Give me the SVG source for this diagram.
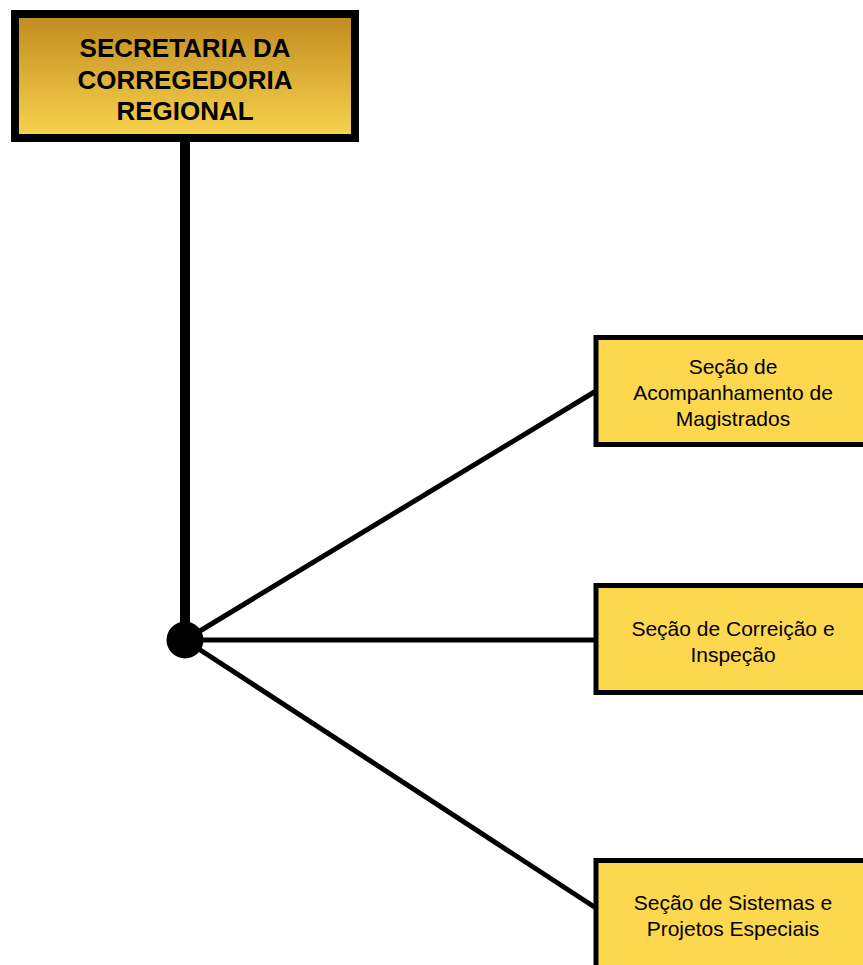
<svg xmlns="http://www.w3.org/2000/svg" width="863" height="965" viewBox="0 0 863 965">
  <style>
    .conn { stroke: #000; stroke-width: 5; fill: none; }
    .trunk { stroke: #000; stroke-width: 10; fill: none; }
    .sec { fill: #fdd84e; stroke: #000; stroke-width: 5; }
    .secText { font-family: "Liberation Sans", Arial, Helvetica, sans-serif; font-size: 21px; fill: #000; text-anchor: middle; }
    .topText { font-family: "Liberation Sans", Arial, Helvetica, sans-serif; font-size: 26px; font-weight: bold; fill: #000; text-anchor: middle; }
  </style>
  <defs>
    <linearGradient id="gold" x1="0" y1="0" x2="0" y2="1">
      <stop offset="0" stop-color="#c08a1f"/>
      <stop offset="1" stop-color="#f8d44e"/>
    </linearGradient>
  </defs>
  <rect width="863" height="965" fill="#fff"/>
  <g id="connectors">
    <line class="trunk" x1="185" y1="140" x2="185" y2="640"/>
    <line class="conn" x1="185" y1="640" x2="596" y2="391"/>
    <line class="conn" x1="185" y1="640" x2="596" y2="640"/>
    <line class="conn" x1="185" y1="640" x2="596" y2="908"/>
    <circle cx="185" cy="640" r="18.5" fill="#000"/>
  </g>
  <g id="secretaria">
    <rect x="15" y="14" width="340" height="124" fill="url(#gold)" stroke="#000" stroke-width="8"/>
    <text class="topText" x="185" y="57">SECRETARIA DA</text>
    <text class="topText" x="185" y="88.5">CORREGEDORIA</text>
    <text class="topText" x="185" y="120">REGIONAL</text>
  </g>
  <g id="acompanhamento">
    <rect class="sec" x="596" y="337.5" width="290" height="107"/>
    <text class="secText" x="733" y="374">Seção de</text>
    <text class="secText" x="733" y="400">Acompanhamento de</text>
    <text class="secText" x="733" y="426">Magistrados</text>
  </g>
  <g id="correicao">
    <rect class="sec" x="596" y="585.5" width="290" height="107"/>
    <text class="secText" x="733" y="636">Seção de Correição e</text>
    <text class="secText" x="733" y="662">Inspeção</text>
  </g>
  <g id="sistemas">
    <rect class="sec" x="596" y="860.5" width="290" height="120"/>
    <text class="secText" x="733" y="910">Seção de Sistemas e</text>
    <text class="secText" x="733" y="936">Projetos Especiais</text>
  </g>
</svg>
